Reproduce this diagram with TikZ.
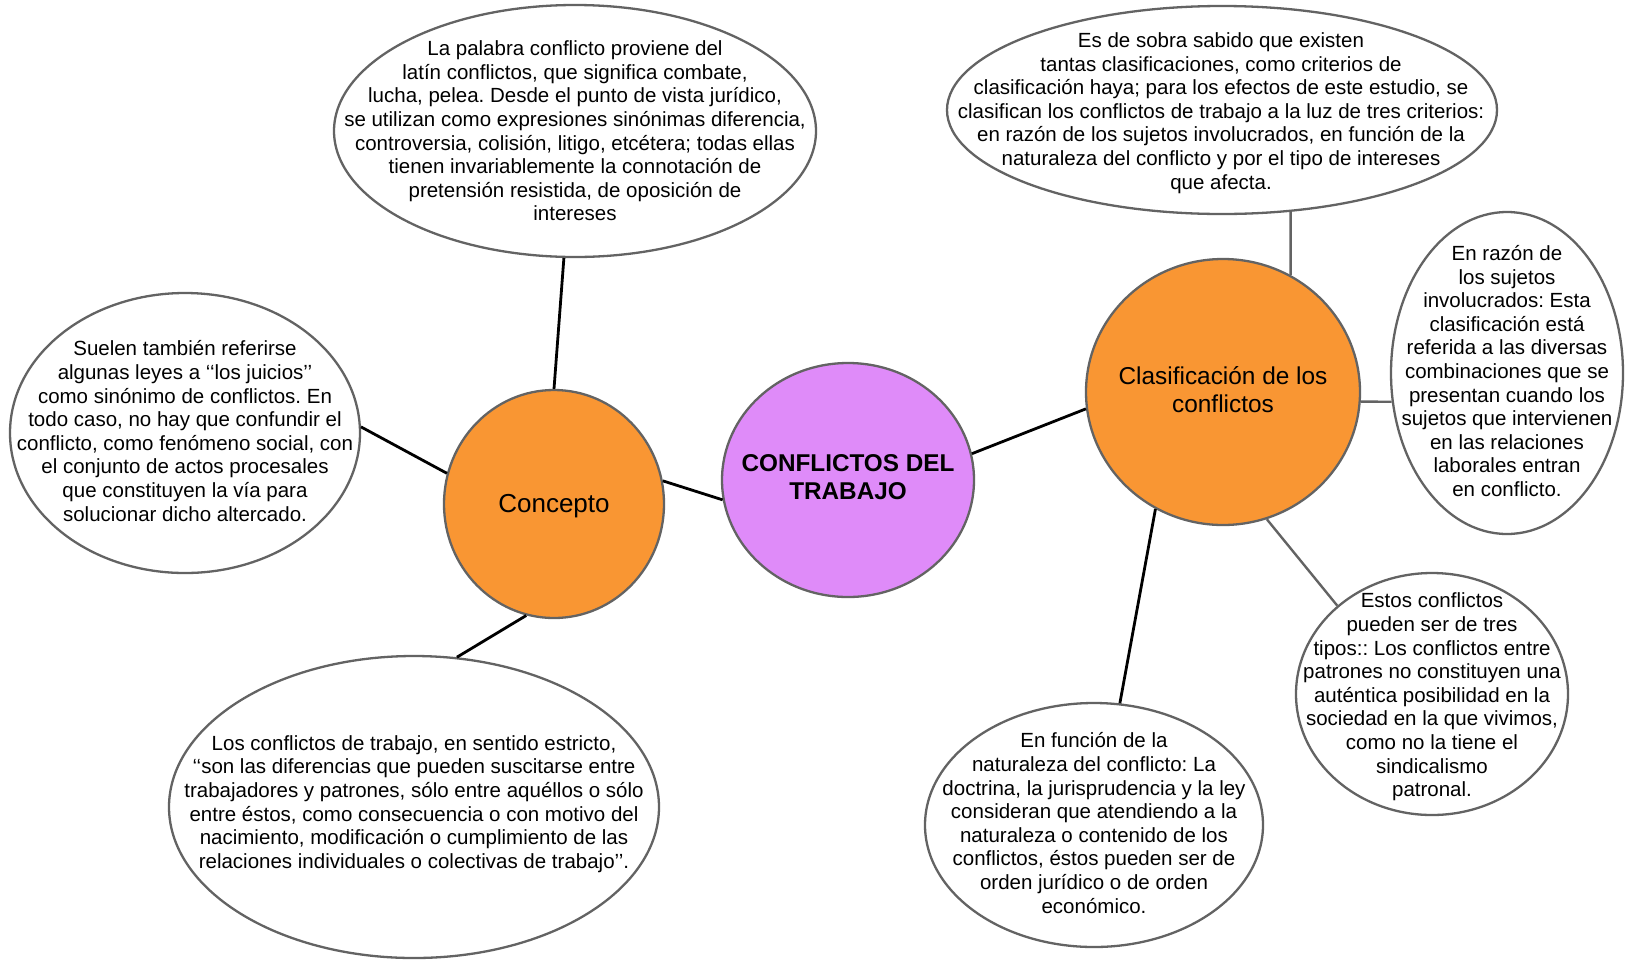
\documentclass[tikz,border=0pt]{standalone}
\usepackage{fontspec}
\setmainfont{Liberation Sans}
\usetikzlibrary{shapes.geometric}
\definecolor{outl}{HTML}{636363}
\definecolor{orangefill}{HTML}{F99633}
\definecolor{purplefill}{HTML}{DF8BF9}
\newcommand{\bodyfont}{\fontsize{20.5}{23.6}\selectfont}
\frenchspacing
\tikzset{
  bubble/.style={draw=outl, line width=2.3pt, ellipse, fill=white, inner sep=0pt},
  hub/.style={bubble, fill=orangefill},
  core/.style={bubble, fill=purplefill},
  txt/.style={align=center, inner sep=0pt, font=\bodyfont},
  conn/.style={line width=2.8pt, draw=black},
  gconn/.style={line width=2.4pt, draw=outl},
}
\begin{document}
\begin{tikzpicture}[x=1pt,y=-1pt]
\useasboundingbox (0,0) rectangle (1625,962);
% bubbles
\node[bubble, minimum width=482pt, minimum height=252pt] (top) at (575,131) {};
\node[bubble, minimum width=550pt, minimum height=208pt] (tr) at (1222,110) {};
\node[bubble, minimum width=350pt, minimum height=280pt] (suelen) at (185,433) {};
\node[hub, minimum width=220pt, minimum height=228pt] (concepto) at (554,504) {};
\node[core, minimum width=252pt, minimum height=234pt] (center) at (848,480) {};
\node[hub, minimum width=274pt, minimum height=266pt] (clas) at (1223,392) {};
\node[bubble, minimum width=232pt, minimum height=322pt] (razon) at (1507,373) {};
\node[bubble, minimum width=490pt, minimum height=302pt] (bl) at (414,807) {};
\node[bubble, minimum width=338pt, minimum height=244pt] (funcion) at (1094,825) {};
\node[bubble, minimum width=272pt, minimum height=242pt] (estos) at (1432,694) {};
% texts
\node[txt] (ttop) at (575,131) {La palabra conflicto proviene del\\latín conflictos, que significa combate,\\lucha, pelea. Desde el punto de vista jurídico,\\se utilizan como expresiones sinónimas diferencia,\\controversia, colisión, litigo, etcétera; todas ellas\\tienen invariablemente la connotación de\\pretensión resistida, de oposición de\\intereses};
\node[txt] (ttr) at (1221,113) {Es de sobra sabido que existen\\tantas clasificaciones, como criterios de\\clasificación haya; para los efectos de este estudio, se\\clasifican los conflictos de trabajo a la luz de tres criterios:\\en razón de los sujetos involucrados, en función de la\\naturaleza del conflicto y por el tipo de intereses\\que afecta.};
\node[txt] (tsuelen) at (185,431) {Suelen también referirse\\algunas leyes a ‘‘los juicios’’\\como sinónimo de conflictos. En\\todo caso, no hay que confundir el\\conflicto, como fenómeno social, con\\el conjunto de actos procesales\\que constituyen la vía para\\solucionar dicho altercado.};
\node[txt, font=\fontsize{26}{30}\selectfont] (tconcepto) at (554,506) {Concepto};
\node[txt, font=\fontsize{24.3}{28}\selectfont\bfseries] (tcenter) at (848,477) {CONFLICTOS DEL\\TRABAJO};
\node[txt, font=\fontsize{24.4}{28}\selectfont] (tclas) at (1223,390) {Clasificación de los\\conflictos};
\node[txt] (trazon) at (1507,371) {En razón de\\los sujetos\\involucrados: Esta\\clasificación está\\referida a las diversas\\combinaciones que se\\presentan cuando los\\sujetos que intervienen\\en las relaciones\\laborales entran\\en conflicto.};
\node[txt] (tbl) at (414,804) {Los conflictos de trabajo, en sentido estricto,\\‘‘son las diferencias que pueden suscitarse entre\\trabajadores y patrones, sólo entre aquéllos o sólo\\entre éstos, como consecuencia o con motivo del\\nacimiento, modificación o cumplimiento de las\\relaciones individuales o colectivas de trabajo’’.};
\node[txt] (tfuncion) at (1094,823) {En función de la\\naturaleza del conflicto: La\\doctrina, la jurisprudencia y la ley\\consideran que atendiendo a la\\naturaleza o contenido de los\\conflictos, éstos pueden ser de\\orden jurídico o de orden\\económico.};
\node[txt] (testos) at (1432,697) {Estos conflictos\\pueden ser de tres\\tipos:: Los conflictos entre\\patrones no constituyen una\\auténtica posibilidad en la\\sociedad en la que vivimos,\\como no la tiene el\\sindicalismo\\patronal.};
% connectors
\draw[conn] (top.265) -- (concepto.90);
\draw[conn] (suelen.2) -- (concepto.164);
\draw[conn] (concepto.12) -- (center.189);
\draw[conn] (concepto.256) -- (bl.74);
\draw[conn] (center.12) -- (clas.187);
\draw[gconn] (clas.60.5) -- (tr.304.7);
\draw[gconn] (clas.356) -- (razon.194.6);
\draw[conn] (clas.240.7) -- (funcion.78.1);
\draw[gconn] (clas.289) -- (estos.137.5);
\end{tikzpicture}
\end{document}
